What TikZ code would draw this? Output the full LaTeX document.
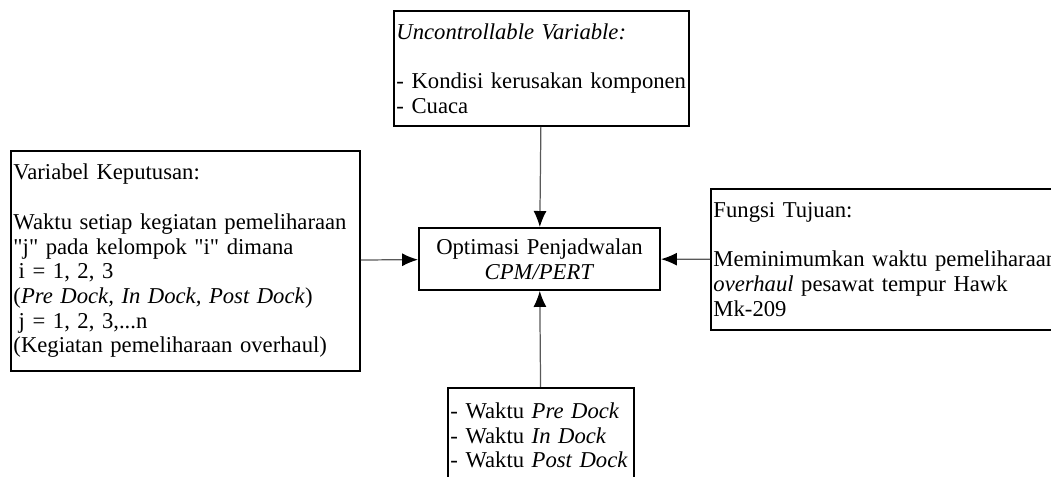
\documentclass[tikz,border=0pt]{standalone}
\usepackage{fontspec}
\setmainfont{Liberation Serif}
\usetikzlibrary{arrows.meta}

\begin{document}
\begin{tikzpicture}[font=\fontsize{12.9}{14.06}\selectfont,
  box/.style={draw=black,line width=1.1pt,inner sep=.05cm,align=left},
  arr/.style={draw=black!65,line width=.7pt,-{Latex[length=3.2mm,width=2.6mm,color=black]}}]
\useasboundingbox (0,0) rectangle (21.02,9.54);
\clip (0,0) rectangle (21.02,9.54);
\node[box,anchor=north west,text width=5.8cm,minimum height=2.3cm] (uncontrol) at (7.86,9.34) {\textit{Uncontrollable Variable:}\\ \mbox{}\\ - Kondisi kerusakan komponen\\ - Cuaca};
\node[box,anchor=north west,text width=6.88cm,minimum height=4.4cm] (keputusan) at (0.2,6.54) {Variabel Keputusan:\\ \mbox{}\\ Waktu setiap kegiatan pemeliharaan\\ \textquotedbl j\textquotedbl{} pada kelompok \textquotedbl i\textquotedbl{} dimana\\ \hspace{3pt}i = 1, 2, 3\\ (\textit{Pre Dock, In Dock, Post Dock})\\ \hspace{3pt}j = 1, 2, 3,...n\\ (Kegiatan pemeliharaan overhaul)};
\node[box,align=center,text width=4.72cm,minimum height=1.24cm] (optimasi) at (10.79,4.36) {Optimasi Penjadwalan\\ \textit{CPM/PERT}};
\node[box,anchor=north west,text width=7.2cm,minimum height=2.82cm] (tujuan) at (14.2,5.78) {Fungsi Tujuan:\\ \mbox{}\\ Meminimumkan waktu pemeliharaan\\ \textit{overhaul} pesawat tempur Hawk\\ Mk-209};
\node[box,anchor=north west,text width=3.62cm,minimum height=1.9cm] (waktu) at (8.94,1.8) {- Waktu \textit{Pre Dock}\\ - Waktu \textit{In Dock}\\ - Waktu \textit{Post Dock}};
\draw[arr] (uncontrol) -- (optimasi);
\draw[arr] (keputusan) -- (optimasi);
\draw[arr] (tujuan) -- (optimasi);
\draw[arr] (waktu) -- (optimasi);
\end{tikzpicture}
\end{document}
